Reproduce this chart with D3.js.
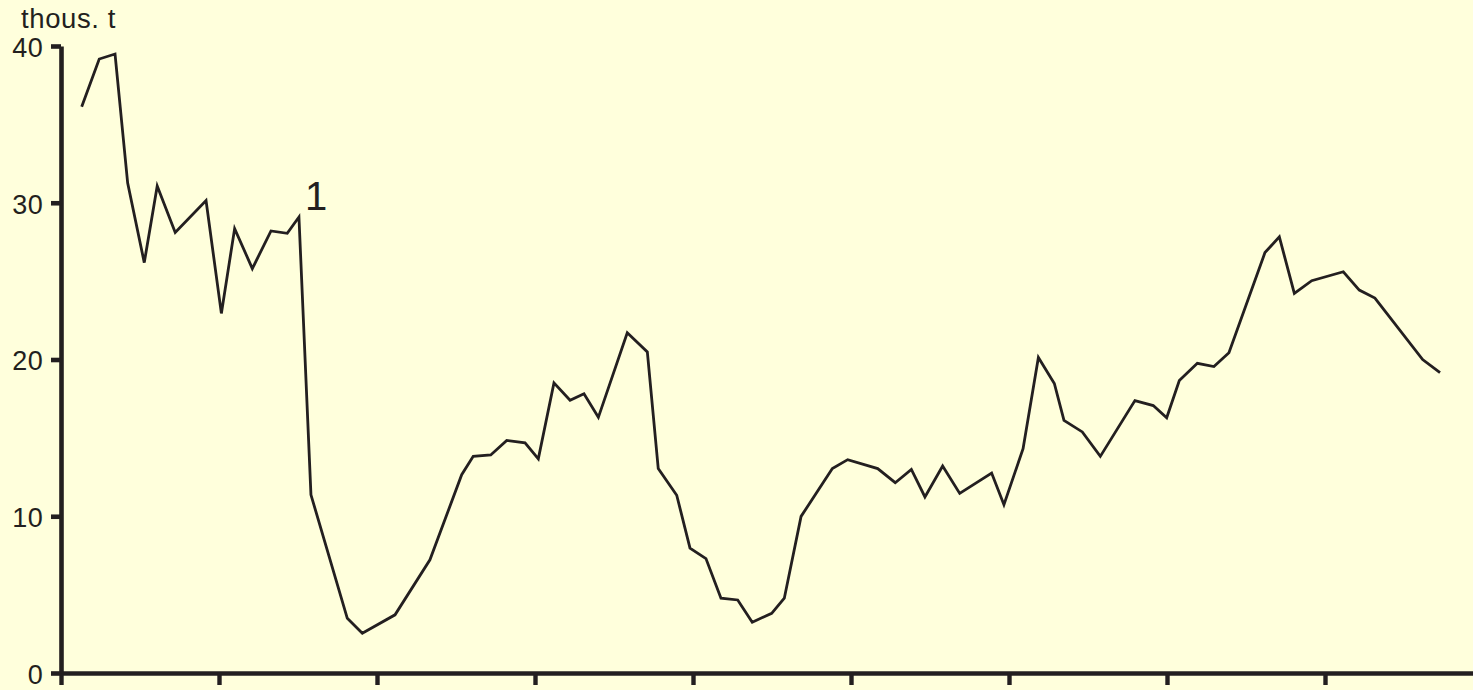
<!DOCTYPE html>
<html>
<head>
<meta charset="utf-8">
<script src="https://cdn.jsdelivr.net/npm/d3@7"></script>
<style>
  html, body { margin: 0; padding: 0; background: #ffffdc; }
  svg { display: block; }
  text { font-family: "Liberation Sans", Arial, Helvetica, sans-serif; fill: #231f20; }
</style>
</head>
<body>
<svg id="chart" width="1473" height="690"></svg>
<script>
// Time position in axis-tick units (ticks are unlabeled), and values in thousand tonnes
const timePos = [0.131,0.242,0.342,0.422,0.527,0.609,0.723,0.918,1.015,1.099,1.211,1.329,1.432,1.506,
  1.582,1.812,1.907,2.114,2.335,2.536,2.609,2.720,2.821,2.937,3.021,3.120,3.222,3.310,3.401,3.584,3.711,
  3.780,3.897,3.981,4.082,4.177,4.283,4.375,4.498,4.578,4.684,4.882,4.979,5.169,5.280,5.382,5.468,5.580,
  5.688,5.890,5.968,6.089,6.186,6.287,6.348,6.464,6.578,6.797,6.913,6.998,7.078,7.192,7.297,7.392,7.620,
  7.711,7.806,7.916,8.116,8.217,8.316,8.618,8.728];
const values = [36.12,39.17,39.49,31.25,26.18,31.07,28.10,30.14,22.94,28.35,25.80,28.20,28.05,29.09,
  11.37,3.49,2.54,3.71,7.22,12.65,13.82,13.91,14.84,14.68,13.66,18.51,17.40,17.81,16.31,21.71,20.48,
  13.04,11.34,7.97,7.30,4.77,4.66,3.24,3.81,4.77,9.99,13.04,13.61,13.04,12.14,12.99,11.23,13.21,
  11.46,12.76,10.74,14.31,20.13,18.47,16.12,15.38,13.82,17.38,17.06,16.28,18.66,19.76,19.55,20.43,26.82,
  27.82,24.22,25.03,25.60,24.43,23.92,20.00,19.17];
const xTicks = [0,1,2,3,4,5,6,7,8];
const yTicks = [0,10,20,30,40];
const yTitle = "thous. t";
const seriesLabel = "1";
const labelIndex = 13;

const svg = d3.select("#chart");
const ink = "#231f20";

const x = d3.scaleLinear().domain([0, 8]).range([61, 1325]);
const xEnd = x.invert(1473);
const y = d3.scaleLinear().domain([0, 40]).range([673, 46]);

// X axis
const xAxisScale = x.copy().domain([0, xEnd]).range([61, 1473]);
const gx = svg.append("g").attr("transform", `translate(0,${y(0)})`)
  .call(d3.axisBottom(xAxisScale).tickValues(xTicks).tickSize(12).tickSizeOuter(0).tickFormat(""));
gx.select(".domain").attr("stroke", ink).attr("stroke-width", 4.6);
gx.selectAll(".tick line").attr("stroke", ink).attr("stroke-width", 4.4);

// Y axis
const gy = svg.append("g").attr("transform", `translate(${x(0)},0)`)
  .call(d3.axisLeft(y).tickValues(yTicks).tickSize(10).tickSizeOuter(0).tickPadding(8));
gy.attr("font-size", null).attr("font-family", null);
gy.select(".domain").attr("stroke", ink).attr("stroke-width", 4.6);
gy.selectAll(".tick line").attr("stroke", ink).attr("stroke-width", 4.6);
gy.selectAll(".tick text").attr("fill", ink).attr("dy", "0.38em")
  .style("font-size", "27px").style("letter-spacing", "0.3px")
  .style("font-family", "'Liberation Sans', Arial, sans-serif");

// Y title
svg.append("text").attr("x", 21).attr("y", 28)
  .style("font-size", "27.5px").style("letter-spacing", "0.6px").text(yTitle);

// Line
const data = timePos.map((t, i) => ({t, v: values[i]}));
svg.append("path").datum(data)
  .attr("fill", "none").attr("stroke", ink).attr("stroke-width", 2.8)
  .attr("stroke-linejoin", "miter")
  .attr("d", d3.line().x(d => x(d.t)).y(d => y(d.v)));

// Series label
svg.append("text")
  .attr("x", x(timePos[labelIndex]) + 6)
  .attr("y", y(values[labelIndex]) - 7)
  .style("font-size", "40px").text(seriesLabel);
</script>
</body>
</html>
